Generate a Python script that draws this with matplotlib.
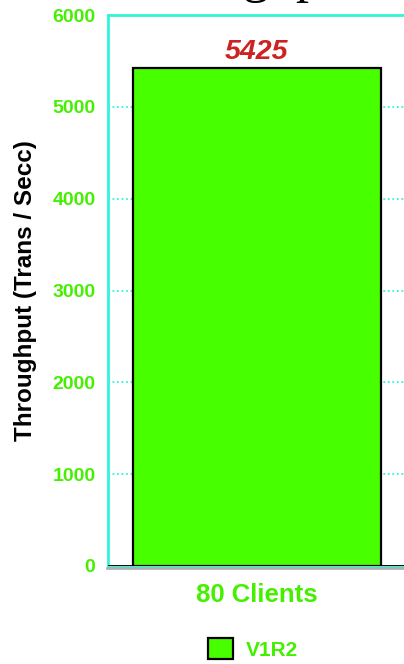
import matplotlib
matplotlib.use("Agg")
import matplotlib.pyplot as plt
from matplotlib.lines import Line2D

# data
categories = ["80 Clients"]
series_name = "V1R2"
throughput = [5425]
y_ticks = [0, 1000, 2000, 3000, 4000, 5000, 6000]

green = "#48ff00"
text_green = "#44f000"
cyan = "#30f5d8"
red = "#cc2222"

plt.rcParams["font.family"] = ["Liberation Sans", "DejaVu Sans"]

fig = plt.figure(figsize=(4.04, 6.64), dpi=100)
ax = fig.add_axes([0.2673, 0.1476, 0.736, 0.8298])

x = list(range(len(categories)))
bars = ax.bar(x, throughput, width=0.835, color=green, edgecolor="black",
              linewidth=1.6, label=series_name, zorder=3)

# value label above the bar
for xi, v in zip(x, throughput):
    ax.annotate(f"{v}", (xi, v), xytext=(0, 6), textcoords="offset points",
                ha="center", va="baseline", fontsize=20.5, fontweight="bold",
                fontstyle="italic", color=red)

ax.set_xlim(-0.5, len(categories) - 0.5)
ax.set_ylim(0, 6000)
ax.set_yticks(y_ticks)
ax.set_yticklabels([str(t) for t in y_ticks], fontsize=14, fontweight="bold",
                   color=text_green)
ax.set_xticks(x)
ax.set_xticklabels(categories, fontsize=18.5, fontweight="bold", color=text_green)
ax.tick_params(axis="y", length=0, pad=9)
ax.tick_params(axis="x", length=0, pad=12)

ax.yaxis.grid(True, linestyle=(0, (1, 1.5)), color=cyan, linewidth=1.3, zorder=0)
ax.set_axisbelow(True)

for side in ["left", "top", "right", "bottom"]:
    ax.spines[side].set_color(cyan)
    ax.spines[side].set_linewidth(2)

# black zero line with grey shadow under it
ax.axhline(0, color="black", linewidth=2, zorder=4)
fig.add_artist(Line2D([0.265, 1.0], [0.1440, 0.1440], transform=fig.transFigure,
                      color="#b0b0b0", linewidth=2))

ax.set_ylabel("Throughput (Trans / Secc)", fontsize=17.5, fontweight="bold",
              color="black")
ax.yaxis.set_label_coords(-0.239, 0.5)

# title, mostly cut off at the top edge
fig.text(239 / 404, 1 + 8 / 664, "Throughput", ha="center", va="baseline",
         fontsize=38, family="Liberation Serif", color="black")

fig.legend(handles=[bars], labels=[series_name], loc="center",
           bbox_to_anchor=(253 / 404, 1 - 649 / 664), frameon=False,
           prop={"size": 15, "weight": "bold"}, handlelength=1.2,
           handleheight=1.15, handletextpad=0.6, labelcolor=text_green,
           borderpad=0)

fig.savefig("out.png", dpi=100)
